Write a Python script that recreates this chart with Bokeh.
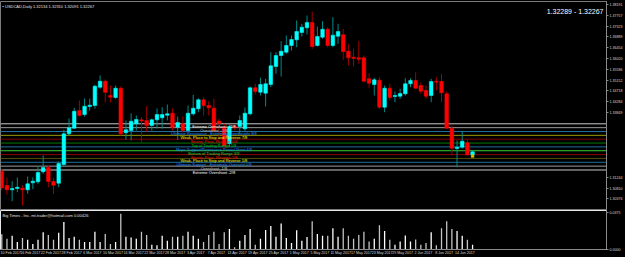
from bokeh.plotting import figure
from bokeh.layouts import column
from bokeh.models import Range1d, FixedTicker, Label, NumeralTickFormatter, ColumnDataSource
from bokeh.embed import file_html
from bokeh.resources import INLINE
from bokeh.core.properties import value

SYMBOL_TEXT = "USDCAD,Daily  1.32134 1.32310 1.32091 1.32267"
BIDASK_TEXT = "1.32289 - 1.32267"
SUB_TITLE = "Big Times - Inc. mt.trader@hotmail.com 0.00426"

DATE_LABELS = ["10 Feb 2017", "16 Feb 2017", "22 Feb 2017", "28 Feb 2017", "6 Mar 2017",
               "10 Mar 2017", "16 Mar 2017", "22 Mar 2017", "28 Mar 2017", "3 Apr 2017",
               "7 Apr 2017", "13 Apr 2017", "19 Apr 2017", "25 Apr 2017", "1 May 2017",
               "5 May 2017", "11 May 2017", "17 May 2017", "23 May 2017", "29 May 2017",
               "2 Jun 2017", "8 Jun 2017", "14 Jun 2017"]

OPEN = [1.31490, 1.30915, 1.30742, 1.30794, 1.30806, 1.30742, 1.31024, 1.31064, 1.31466, 1.31639,
        1.31076, 1.31008, 1.31759, 1.32993, 1.33219, 1.33930, 1.33769, 1.34091, 1.34131, 1.34867,
        1.35108, 1.34533, 1.34453, 1.34827, 1.33034, 1.33126, 1.33395, 1.33556, 1.33528, 1.33327,
        1.33556, 1.33637, 1.33741, 1.33822, 1.33259, 1.33395, 1.33126, 1.33797, 1.33998, 1.34360,
        1.34131, 1.34022, 1.33508, 1.33259, 1.32603, 1.33307, 1.33287, 1.33194, 1.33797, 1.34843,
        1.34666, 1.34626, 1.34975, 1.35699, 1.36141, 1.36274, 1.36543, 1.36772, 1.37066, 1.37255,
        1.37468, 1.36543, 1.36877, 1.37198, 1.36543, 1.36917, 1.36973, 1.36314, 1.36073, 1.36049,
        1.36049, 1.35204, 1.34975, 1.35148, 1.34063, 1.34827, 1.34493, 1.34505, 1.34601, 1.35003,
        1.35136, 1.34935, 1.34734, 1.34533, 1.35108, 1.35096, 1.34601, 1.33219, 1.32402, 1.32455,
        1.32632, 1.32134]
HIGH = [1.31598, 1.31237, 1.31088, 1.31237, 1.30915, 1.31277, 1.31237, 1.31679, 1.32121, 1.31719,
        1.31225, 1.31880, 1.33154, 1.33608, 1.34039, 1.34332, 1.34412, 1.34412, 1.34963, 1.35337,
        1.35176, 1.34935, 1.34935, 1.34895, 1.33528, 1.33809, 1.33729, 1.33661, 1.34103, 1.33608,
        1.34010, 1.34063, 1.34171, 1.34010, 1.33689, 1.33689, 1.34131, 1.34561, 1.34424, 1.34465,
        1.34304, 1.34400, 1.33608, 1.33395, 1.33367, 1.33367, 1.33729, 1.34051, 1.34895, 1.35003,
        1.35245, 1.35204, 1.36274, 1.36274, 1.36716, 1.36945, 1.36945, 1.37548, 1.37415, 1.37749,
        1.37910, 1.37307, 1.37520, 1.37279, 1.37681, 1.37415, 1.37214, 1.36611, 1.36410, 1.36716,
        1.36141, 1.35430, 1.35245, 1.35269, 1.34935, 1.35003, 1.34694, 1.34802, 1.35229, 1.35229,
        1.35470, 1.35068, 1.34935, 1.35204, 1.35269, 1.35405, 1.34694, 1.33327, 1.32724, 1.33098,
        1.32764, 1.32310]
LOW = [1.30714, 1.30553, 1.30284, 1.30646, 1.30111, 1.30581, 1.30766, 1.30983, 1.31385, 1.30847,
       1.30581, 1.30847, 1.31651, 1.32925, 1.33194, 1.33689, 1.33689, 1.33930, 1.33998, 1.34802,
       1.34252, 1.34252, 1.34400, 1.32925, 1.32752, 1.32724, 1.33126, 1.32656, 1.33058, 1.33126,
       1.33206, 1.33194, 1.33528, 1.33126, 1.32752, 1.33058, 1.33098, 1.33729, 1.33862, 1.33729,
       1.33729, 1.33058, 1.32804, 1.32443, 1.32483, 1.33126, 1.33005, 1.33058, 1.33729, 1.34573,
       1.34533, 1.34091, 1.34867, 1.35405, 1.35297, 1.36209, 1.36342, 1.36475, 1.36905, 1.36985,
       1.36410, 1.36503, 1.36812, 1.36475, 1.36475, 1.36611, 1.35968, 1.35739, 1.35699, 1.35807,
       1.35068, 1.34843, 1.34533, 1.33998, 1.33862, 1.34332, 1.34264, 1.34400, 1.34533, 1.34867,
       1.34802, 1.34601, 1.34400, 1.34264, 1.34734, 1.34264, 1.33186, 1.32121, 1.31651, 1.32390,
       1.32121, 1.32091]
CLOSE = [1.30823, 1.30742, 1.30794, 1.30847, 1.30742, 1.30983, 1.31088, 1.31438, 1.31639, 1.31076,
         1.30927, 1.31799, 1.32993, 1.33235, 1.33902, 1.33729, 1.34103, 1.34143, 1.34907, 1.35108,
         1.34666, 1.34465, 1.34827, 1.32993, 1.33154, 1.33500, 1.33568, 1.33508, 1.33327, 1.33556,
         1.33769, 1.33769, 1.33797, 1.33259, 1.33448, 1.33126, 1.33822, 1.34022, 1.34360, 1.34131,
         1.34039, 1.33126, 1.33407, 1.32523, 1.33287, 1.33247, 1.33528, 1.33822, 1.34843, 1.34694,
         1.34975, 1.35003, 1.35727, 1.36141, 1.36314, 1.36543, 1.36784, 1.37106, 1.37279, 1.37468,
         1.36503, 1.36905, 1.37198, 1.36543, 1.36957, 1.37106, 1.36302, 1.36049, 1.36020, 1.35992,
         1.35108, 1.35028, 1.35164, 1.34063, 1.34827, 1.34453, 1.34533, 1.34613, 1.35003, 1.35136,
         1.34827, 1.34706, 1.34505, 1.35096, 1.35068, 1.34642, 1.33219, 1.32415, 1.32455, 1.32696,
         1.32149, 1.32267]
VOLUME = [0.0157, 0.0110, 0.0140, 0.0077, 0.0117, 0.0100, 0.0057, 0.0100, 0.0177, 0.0150,
          0.0100, 0.0173, 0.0283, 0.0117, 0.0130, 0.0100, 0.0077, 0.0077, 0.0183, 0.0077,
          0.0160, 0.0057, 0.0077, 0.0367, 0.0130, 0.0123, 0.0110, 0.0183, 0.0150, 0.0050,
          0.0043, 0.0140, 0.0090, 0.0130, 0.0130, 0.0140, 0.0183, 0.0140, 0.0110, 0.0077,
          0.0150, 0.0183, 0.0057, 0.0177, 0.0210, 0.0023, 0.0090, 0.0150, 0.0210, 0.0050,
          0.0110, 0.0200, 0.0240, 0.0130, 0.0267, 0.0117, 0.0067, 0.0197, 0.0090, 0.0127,
          0.0290, 0.0160, 0.0140, 0.0140, 0.0217, 0.0130, 0.0217, 0.0140, 0.0110, 0.0150,
          0.0183, 0.0083, 0.0110, 0.0250, 0.0190, 0.0100, 0.0050, 0.0083, 0.0143, 0.0083,
          0.0103, 0.0050, 0.0067, 0.0177, 0.0043, 0.0217, 0.0290, 0.0210, 0.0190, 0.0140,
          0.0100, 0.0050]

MM_LEVELS = [1.33395, 1.33240, 1.33086, 1.32931, 1.32776, 1.32621, 1.32467,
             1.32312, 1.32157, 1.32002, 1.31848, 1.31693, 1.31538]
MM_NAMES = ["Extreme Overshoot +2/8", "Overshoot +1/8",
            "Ultimate Resistance - Extremely Overbought 8/8",
            "Weak, Place to Stop and Reverse 7/8", "Strong, Pivot, Reverse 6/8",
            "Top of Trading Range 5/8", "Major Support/Resistance Pivotal Point 4/8",
            "Bottom of Trading Range 3/8", "Strong, Pivot, Reverse 2/8",
            "Weak, Place to Stop and Reverse 1/8",
            "Ultimate Support - Extremely Oversold 0/8", "Overshoot -1/8",
            "Extreme Overshoot -2/8"]
MM_LINE_COLORS = ["#c8c8c8", "#9a9a9a", "#1f6f9f", "#9a9a00", "#800000", "#007a00", "#1f6f9f",
                  "#33cc33", "#8b0000", "#4d4d00", "#1f6f9f", "#9a9a9a", "#c8c8c8"]
MM_TEXT_COLORS = ["#ffffff", "#c0c0c0", "#1e90ff", "#ffff00", "#ff0000", "#00c800", "#1e90ff",
                  "#32cd32", "#ff0000", "#ffff00", "#1e90ff", "#c0c0c0", "#ffffff"]
MM_TAG_COLORS = ["#f0f0f0", "#f0f0f0", "#00bfff", "#ffff00", "#ff0000", "#00e000", "#00bfff",
                 "#00e000", "#ff0000", "#ffff00", "#00bfff", "#f0f0f0", "#f0f0f0"]
PRICE_TICKS = [1.38191, 1.37757, 1.37323, 1.36889, 1.36454, 1.36020, 1.35586, 1.35152,
               1.34718, 1.34284, 1.33849, 1.31244, 1.30810, 1.30376]
VOL_TICKS = [0.0, 0.0375]

N = len(OPEN)
idx = list(range(N))
up = [c >= o for o, c in zip(OPEN, CLOSE)]

BAR_PX = 5.216
X0 = -0.25
FRAME_W = 611
X1 = X0 + FRAME_W / BAR_PX

src = ColumnDataSource(dict(
    x=idx,
    top=[max(o, c) for o, c in zip(OPEN, CLOSE)],
    bottom=[min(o, c) for o, c in zip(OPEN, CLOSE)],
    high=HIGH, low=LOW,
    body=["#00ffff" if u else "#ff0000" for u in up],
    wick=["#008b8b" if u else "#a00000" for u in up],
    vol=VOLUME,
    vcol=["#ffffff" if u else "#c4c4c4" for u in up],
))

FONT = "Liberation Sans"

p1 = figure(width=625, height=210, x_range=Range1d(X0, X1), y_range=Range1d(1.29950, 1.38312),
            output_backend="svg", toolbar_location=None, x_axis_location=None,
            y_axis_location="right", min_border_left=0, min_border_right=14,
            min_border_top=1, min_border_bottom=1)
p1.background_fill_color = "black"
p1.border_fill_color = "black"
p1.outline_line_color = "#7a7a7a"
p1.grid.visible = False
ya = p1.yaxis[0]
ya.ticker = FixedTicker(ticks=PRICE_TICKS)
ya.formatter = NumeralTickFormatter(format="0.00000")
ya.axis_line_color = "#8a8a8a"
ya.major_tick_line_color = "#8a8a8a"
ya.major_tick_out = 2
ya.major_tick_in = 0
ya.minor_tick_line_color = None
ya.major_label_standoff = 1
ya.major_label_text_color = "#d8d8d8"
ya.major_label_text_font = FONT
ya.major_label_text_font_size = "3.6px"

for lvl, col in zip(MM_LEVELS, MM_LINE_COLORS):
    p1.segment(x0=X0, x1=X1, y0=lvl, y1=lvl, line_color=col, line_width=1)

p1.segment(x0="x", x1="x", y0="low", y1="high", line_color="wick", line_width=1, source=src)
p1.vbar(x="x", top="top", bottom="bottom", width=0.7, fill_color="body", line_color="body",
        line_width=0.5, source=src)

mm_src = ColumnDataSource(dict(y=MM_LEVELS, t=MM_NAMES, c=MM_TEXT_COLORS, x=[41.0] * len(MM_LEVELS)))
p1.text(x="x", y="y", text="t", text_color="c", text_align="center", text_baseline="top",
        text_font=value(FONT), text_font_size="4px", source=mm_src)

for lvl, col in zip(MM_LEVELS, MM_TAG_COLORS):
    p1.add_layout(Label(x=X1, y=lvl, x_offset=1, text=f"{lvl:.5f}", text_color="black",
                        text_font=FONT, text_font_size="3.6px", text_baseline="middle",
                        background_fill_color=col, padding=0))

p1.add_layout(Label(x=X0, y=1.38312, x_offset=2, y_offset=-2, text="\u25aa " + SYMBOL_TEXT,
                    text_color="#e0e0e0", text_font=FONT, text_font_size="4px",
                    text_baseline="top"))
p1.add_layout(Label(x=X1, y=1.38312, x_offset=-3, y_offset=-6, text=BIDASK_TEXT,
                    text_color="#ffffff", text_font=FONT, text_font_size="7px",
                    text_align="right", text_baseline="top"))
p1.scatter(x=[N - 1], y=[LOW[-1]], marker="triangle", size=3,
           fill_color="#e0c000", line_color="#e0c000")

p2 = figure(width=625, height=47, x_range=p1.x_range, y_range=Range1d(0, 0.040),
            output_backend="svg", toolbar_location=None, y_axis_location="right",
            min_border_left=0, min_border_right=14, min_border_top=0, min_border_bottom=0)
p2.background_fill_color = "black"
p2.border_fill_color = "black"
p2.outline_line_color = "#e8e8e8"
p2.grid.visible = False
p2.vbar(x="x", top="vol", bottom=0, width=0.25, fill_color="vcol", line_color=None, source=src)
p2.add_layout(Label(x=X0, y=0.040, x_offset=2, y_offset=-2, text=SUB_TITLE,
                    text_color="#e0e0e0", text_font=FONT, text_font_size="4px",
                    text_baseline="top"))

va = p2.yaxis[0]
va.ticker = FixedTicker(ticks=VOL_TICKS)
va.formatter = NumeralTickFormatter(format="0.0000")
va.axis_line_color = "#8a8a8a"
va.major_tick_line_color = "#8a8a8a"
va.major_tick_out = 2
va.major_tick_in = 0
va.minor_tick_line_color = None
va.major_label_standoff = 1
va.major_label_text_color = "#d8d8d8"
va.major_label_text_font = FONT
va.major_label_text_font_size = "3.6px"

xa = p2.xaxis[0]
tick_pos = [4 * i + 1.5 for i in range(len(DATE_LABELS))]
xa.ticker = FixedTicker(ticks=tick_pos)
xa.major_label_overrides = {t: lab for t, lab in zip(tick_pos, DATE_LABELS)}
xa.axis_line_color = "#8a8a8a"
xa.major_tick_line_color = None
xa.minor_tick_line_color = None
xa.major_tick_out = 0
xa.major_tick_in = 0
xa.major_label_standoff = 1
xa.major_label_text_color = "#d8d8d8"
xa.major_label_text_font = FONT
xa.major_label_text_font_size = "3.6px"

layout = column(p1, p2, spacing=0)
layout.background = "black"
open("out.html", "w").write(file_html(layout, INLINE))
